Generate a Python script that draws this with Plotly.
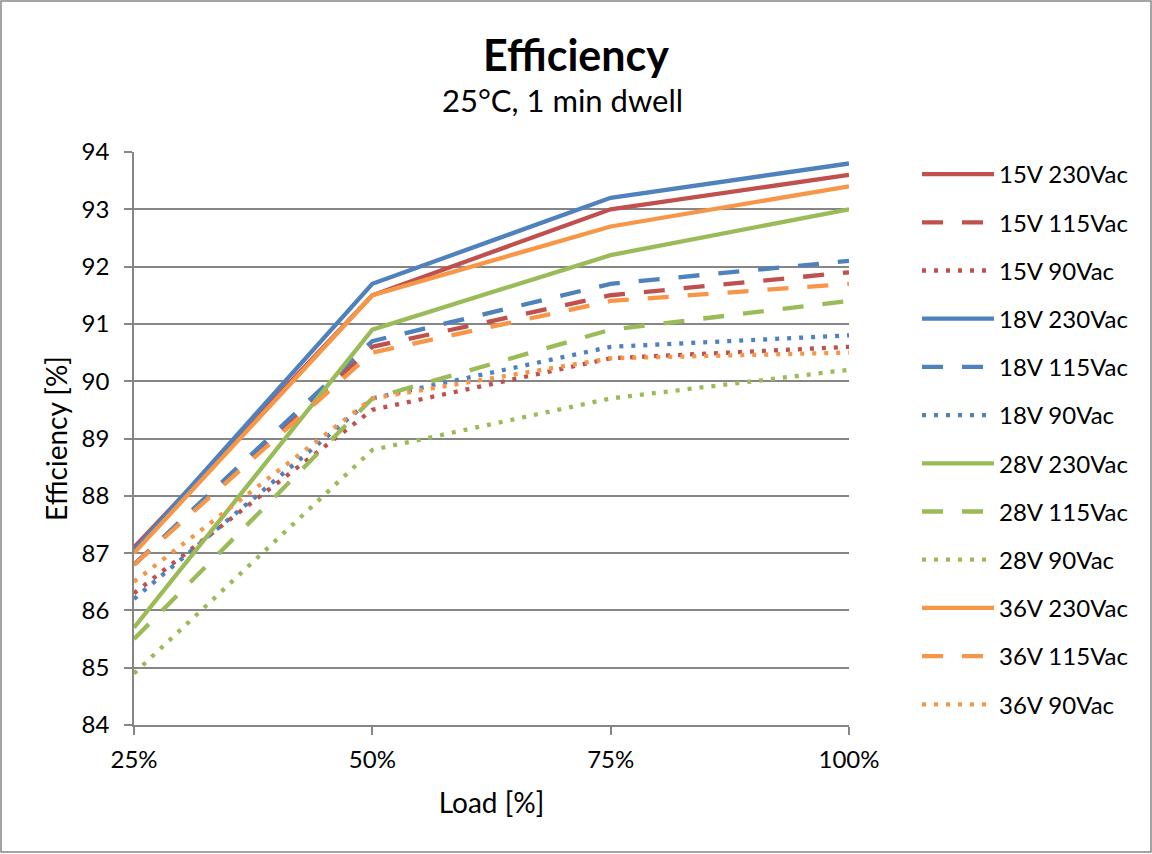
import plotly.graph_objects as go

load = [25, 50, 75, 100]
load_labels = ["25%", "50%", "75%", "100%"]

eff_15v_230 = [87.1, 91.5, 93.0, 93.6]
eff_15v_115 = [86.8, 90.6, 91.5, 91.9]
eff_15v_90 = [86.3, 89.5, 90.4, 90.6]
eff_18v_230 = [87.05, 91.7, 93.2, 93.8]
eff_18v_115 = [86.8, 90.7, 91.7, 92.1]
eff_18v_90 = [86.2, 89.7, 90.6, 90.8]
eff_28v_230 = [85.7, 90.9, 92.2, 93.0]
eff_28v_115 = [85.5, 89.7, 90.9, 91.4]
eff_28v_90 = [84.9, 88.8, 89.7, 90.2]
eff_36v_230 = [87.0, 91.5, 92.7, 93.4]
eff_36v_115 = [86.8, 90.5, 91.4, 91.7]
eff_36v_90 = [86.5, 89.7, 90.4, 90.5]

y_ticks = [84, 85, 86, 87, 88, 89, 90, 91, 92, 93, 94]

RED = "#C0504D"
BLUE = "#4F81BD"
GREEN = "#9BBB59"
ORANGE = "#F79646"
DASH = "21px,19px"
DOT = "4px,8px"

series = [
    ("15V 230Vac", eff_15v_230, RED, "solid"),
    ("15V 115Vac", eff_15v_115, RED, DASH),
    ("15V 90Vac", eff_15v_90, RED, DOT),
    ("18V 230Vac", eff_18v_230, BLUE, "solid"),
    ("18V 115Vac", eff_18v_115, BLUE, DASH),
    ("18V 90Vac", eff_18v_90, BLUE, DOT),
    ("28V 230Vac", eff_28v_230, GREEN, "solid"),
    ("28V 115Vac", eff_28v_115, GREEN, DASH),
    ("28V 90Vac", eff_28v_90, GREEN, DOT),
    ("36V 230Vac", eff_36v_230, ORANGE, "solid"),
    ("36V 115Vac", eff_36v_115, ORANGE, DASH),
    ("36V 90Vac", eff_36v_90, ORANGE, DOT),
]

FONT = "Lato, Open Sans, sans-serif"

fig = go.Figure()
for name, vals, color, dash in series:
    fig.add_trace(go.Scatter(
        x=load, y=vals, mode="lines", name=name, legendgroup=name,
        line=dict(color=color, width=4.3, dash=dash),
    ))

L, T, W, H = 134, 152, 715, 573
FW, FH = 1152, 854

def px(x):
    return (x - L) / W

def py(y):
    return (T + H - y) / H

fig.update_layout(
    width=FW, height=FH,
    margin=dict(l=L, r=FW - L - W, t=T, b=FH - T - H),
    paper_bgcolor="white", plot_bgcolor="white",
    font=dict(family=FONT, size=24, color="black"),
    showlegend=True,
    legend=dict(
        x=px(917), y=py(152), xanchor="left", yanchor="top",
        font=dict(size=24, family=FONT), itemwidth=72,
        tracegroupgap=14, traceorder="grouped", maxheight=800,
        bgcolor="rgba(0,0,0,0)",
    ),
    xaxis=dict(
        range=[25, 100], tickvals=load, ticktext=load_labels,
        showgrid=False, showline=True, linecolor="#868686", linewidth=1.5,
        ticks="outside", ticklen=8, tickcolor="#868686", tickwidth=1.5,
        tickfont=dict(size=24), zeroline=False, ticklabelstandoff=4,
        title=dict(text="Load [%]", font=dict(size=28), standoff=22),
    ),
    yaxis=dict(
        range=[84, 94], tickvals=y_ticks,
        showgrid=True, gridcolor="#868686", gridwidth=1.5,
        showline=True, linecolor="#868686", linewidth=1.5,
        ticks="outside", ticklen=8, tickcolor="#868686", tickwidth=1.5,
        tickfont=dict(size=24), zeroline=False, ticklabelstandoff=10,
        title=dict(text="Efficiency [%]", font=dict(size=28), standoff=6),
    ),
    annotations=[
        dict(text="<b>Efficiency</b>", x=px(576), y=py(54), xref="paper", yref="paper",
             showarrow=False, font=dict(size=43, family=FONT), xanchor="center", yanchor="middle"),
        dict(text="25°C, 1 min dwell", x=px(562), y=py(100), xref="paper", yref="paper",
             showarrow=False, font=dict(size=31, family=FONT), xanchor="center", yanchor="middle"),
    ],
    shapes=[
        dict(type="rect", xref="paper", yref="paper",
             x0=px(1), x1=px(1151), y0=py(852), y1=py(1),
             line=dict(color="#868686", width=1.5), layer="below"),
    ],
)

fig.write_html("out.html", config={"displayModeBar": False},
               post_script="document.body.style.margin='0';document.body.style.overflow='hidden';")
